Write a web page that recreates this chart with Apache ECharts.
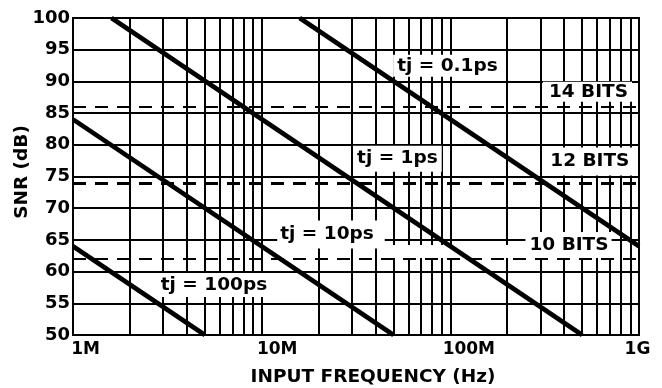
<!DOCTYPE html>
<html>
<head>
<meta charset="utf-8">
<script src="https://cdn.jsdelivr.net/npm/echarts@6/dist/echarts.min.js"></script>
<style>
  html, body { margin: 0; padding: 0; background: #fff; }
  #chart { width: 662px; height: 388px; }
</style>
</head>
<body>
<div id="chart"></div>
<script>
// Frequency axis ticks (Hz) and their labels
const xTickValues = [1e6, 1e7, 1e8, 1e9];
const xTickLabels = ['1M', '10M', '100M', '1G'];
// Multipliers for the intermediate log grid lines within each decade
const minorSteps = [2, 3, 4, 5, 6, 7, 8, 9];

// SNR limit set by aperture jitter, [frequency Hz, SNR dB] end points
const jitterNames = ['tj = 0.1ps', 'tj = 1ps', 'tj = 10ps', 'tj = 100ps'];
const jitter01ps = [[15.9e6, 100], [1e9, 64]];
const jitter1ps = [[1.6e6, 100], [500e6, 50]];
const jitter10ps = [[1e6, 84], [50e6, 50]];
const jitter100ps = [[1e6, 64], [5e6, 50]];

// Ideal converter SNR for a given resolution (dB)
const bitLevels = [86, 74, 62];
const bitNames = ['14 BITS', '12 BITS', '10 BITS'];

const FONT = 'DejaVu Sans';
const BLACK = '#000';

// Where each annotation sits (data coords) and how far its white box reaches
const annotations = [
  { text: jitterNames[0], at: [98.3e6, 92.46], pad: [1, 7, 2, 4] },
  { text: bitNames[0], at: [533e6, 88.36], pad: [0, 4, 1, 6] },
  { text: jitterNames[1], at: [52.4e6, 77.81], pad: [0, 4, 7, 4] },
  { text: bitNames[1], at: [549e6, 77.38], pad: [8, 6, 1, 6] },
  { text: jitterNames[2], at: [23.3e6, 65.85], pad: [5, 11, 4, 3] },
  { text: bitNames[2], at: [423e6, 64.19], pad: [1, 3, 6, 4] },
  { text: jitterNames[3], at: [5.55e6, 57.87], pad: [1, 5, 4, 6] }
];

const minorGrid = [];
xTickValues.slice(0, -1).forEach(decade => {
  minorSteps.forEach(m => minorGrid.push({ xAxis: decade * m }));
});

const tickRich = {};
const tickPads = [[0, 0, 0, 25], [0, 0, 0, 31], [0, 0, 0, 37], [0, 3, 0, 0]];
tickPads.forEach((p, i) => {
  tickRich['t' + i] = { fontFamily: FONT, fontWeight: 'bold', fontSize: 17, color: BLACK, padding: p };
});

const curveSeries = [jitter01ps, jitter1ps, jitter10ps, jitter100ps].map((d, i) => ({
  name: jitterNames[i],
  type: 'line',
  data: d,
  showSymbol: false,
  symbol: 'none',
  clip: true,
  z: 6,
  lineStyle: { color: BLACK, width: 4.6 }
}));

const chart = echarts.init(document.getElementById('chart'), null, { renderer: 'canvas' });
chart.setOption({
  animation: false,
  backgroundColor: '#fff',
  grid: {
    left: 73, right: 23, top: 18, bottom: 53,
    outerBoundsMode: 'none',
    containLabel: false,
    show: true, borderColor: BLACK, borderWidth: 2, backgroundColor: 'transparent'
  },
  xAxis: {
    type: 'log',
    logBase: 10,
    min: 1e6,
    max: 1e9,
    name: 'INPUT FREQUENCY (Hz)',
    nameLocation: 'middle',
    nameGap: 33,
    nameTextStyle: { fontFamily: FONT, fontWeight: 'bold', fontSize: 18.5, color: BLACK, padding: [0, 0, 0, 34] },
    axisLine: { show: true, lineStyle: { color: BLACK, width: 2 } },
    axisTick: { show: false },
    splitLine: { show: true, lineStyle: { color: BLACK, width: 2 } },
    axisLabel: {
      show: true,
      margin: 6,
      showMinLabel: true,
      showMaxLabel: true,
      formatter: v => {
        const i = xTickValues.findIndex(t => Math.abs(Math.log10(t) - Math.log10(v)) < 1e-6);
        return i < 0 ? '' : '{t' + i + '|' + xTickLabels[i] + '}';
      },
      rich: tickRich
    }
  },
  yAxis: {
    type: 'value',
    min: 50,
    max: 100,
    interval: 5,
    name: 'SNR (dB)',
    nameLocation: 'middle',
    nameGap: 41,
    nameMoveOverlap: false,
    nameRotate: 90,
    nameTextStyle: { fontFamily: FONT, fontWeight: 'bold', fontSize: 18.5, color: BLACK, padding: [0, 0, 0, 9] },
    axisLine: { show: true, lineStyle: { color: BLACK, width: 2 } },
    axisTick: { show: false },
    splitLine: { show: true, lineStyle: { color: BLACK, width: 2 } },
    axisLabel: { margin: 3, fontFamily: FONT, fontWeight: 'bold', fontSize: 18, color: BLACK }
  },
  series: [
    {
      // intermediate vertical grid lines of the log axis
      type: 'line',
      data: [],
      z: 1,
      silent: true,
      markLine: {
        z: 1,
        silent: true,
        symbol: ['none', 'none'],
        label: { show: false },
        lineStyle: { color: BLACK, width: 2, type: 'solid' },
        data: minorGrid
      }
    },
    {
      // annotation labels on white boxes
      type: 'scatter',
      z: 3,
      silent: true,
      symbolSize: 0,
      itemStyle: { opacity: 1 },
      data: annotations.map(a => ({
        name: a.text,
        value: a.at,
        label: { padding: a.pad }
      })),
      label: {
        show: true,
        opacity: 1,
        position: 'inside',
        align: 'center',
        verticalAlign: 'middle',
        formatter: p => p.name,
        fontFamily: FONT,
        fontWeight: 'bold',
        fontSize: 18.5,
        lineHeight: 19,
        color: BLACK,
        textBorderWidth: 0,
        backgroundColor: '#fff'
      },
      markArea: {
        z: 2,
        silent: true,
        itemStyle: { color: '#fff', opacity: 1 },
        data: [[{ xAxis: 44.5e6, yAxis: 62.13 }, { xAxis: 718e6, yAxis: 64.19 }]]
      }
    },
    {
      // resolution reference levels
      type: 'line',
      data: [],
      z: 4,
      silent: true,
      markLine: {
        z: 4,
        silent: true,
        symbol: ['none', 'none'],
        label: { show: false },
        data: bitLevels.map((v, i) => ({
          name: bitNames[i],
          yAxis: v,
          lineStyle: { color: BLACK, width: i === 1 ? 3 : 2, type: [13, 9] }
        }))
      }
    },
    ...curveSeries
  ]
});
</script>
</body>
</html>
